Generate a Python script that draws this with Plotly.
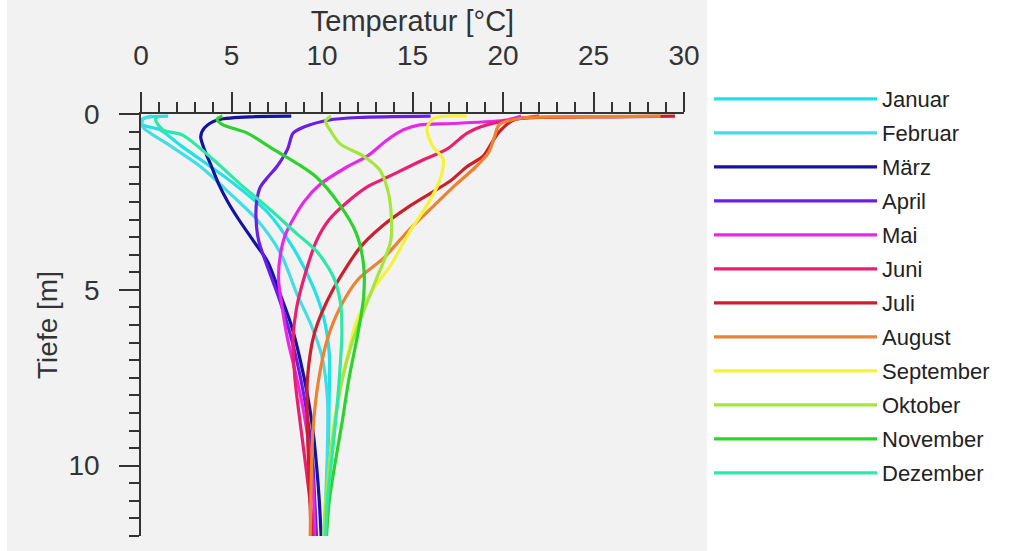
import plotly.graph_objects as go

months = ["Januar", "Februar", "März", "April", "Mai", "Juni", "Juli",
          "August", "September", "Oktober", "November", "Dezember"]
colors = ["#22e0e8", "#44dde6", "#1414a0", "#6a1ee6", "#e42ae8", "#ea1f6e",
          "#cc1f2c", "#ec8232", "#f6f23c", "#a4e63c", "#2ed22e", "#2ee8a8"]

# temperature [°C], with the matching depth [m]
jan_t = [1.5, 0.3, -0.2, 0.3, 1.05, 2.2, 3.3, 5.1, 7.0, 8.4, 9.5, 10.1, 10.4, 10.4, 10.35, 10.25, 10.2]
jan_d = [0.06, 0.1, 0.25, 0.35, 0.45, 0.9, 1.3, 1.97, 2.8, 3.8, 4.9, 5.8, 6.8, 8.0, 9.5, 11.0, 12.0]
feb_t = [0.6, 0.1, 0.1, 1.4, 3.3, 5.1, 6.4, 7.7, 8.6, 9.4, 10.0, 10.3, 10.3, 10.2, 10.15]
feb_d = [0.06, 0.15, 0.37, 0.83, 1.5, 2.35, 3.0, 3.95, 5.1, 6.0, 6.9, 8.1, 9.5, 11.0, 12.0]
mar_t = [8.3, 6.0, 4.2, 3.5, 3.3, 3.5, 3.9, 4.3, 4.8, 5.4, 6.2, 7.0, 7.6, 8.3, 8.8, 9.2, 9.5, 9.7, 9.85, 9.95]
mar_d = [0.06, 0.08, 0.17, 0.4, 0.65, 1.0, 1.5, 2.0, 2.5, 3.0, 3.6, 4.2, 5.0, 6.0, 7.0, 8.0, 9.0, 10.0, 11.0, 12.0]
apr_t = [16.0, 12.0, 10.4, 9.0, 8.4, 8.1, 7.5, 7.0, 6.6, 6.4, 6.35, 6.5, 7.1, 7.6, 8.1, 8.6, 9.0, 9.3, 9.5, 9.6, 9.7]
apr_d = [0.06, 0.1, 0.17, 0.37, 0.55, 1.0, 1.5, 1.8, 2.07, 2.45, 2.9, 3.6, 4.5, 5.2, 6.0, 7.0, 8.0, 9.0, 10.0, 11.0, 12.0]
mai_t = [21.0, 20.2, 17.2, 15.4, 14.5, 13.6, 12.5, 11.4, 9.9, 9.0, 8.0, 7.7, 7.6, 7.8, 8.1, 8.6, 9.0, 9.3, 9.5, 9.6]
mai_d = [0.06, 0.17, 0.27, 0.31, 0.45, 0.74, 1.2, 1.5, 2.0, 2.5, 3.4, 4.0, 4.7, 5.5, 6.4, 7.5, 8.5, 9.5, 10.5, 12.0]
jun_t = [22.0, 21.0, 19.1, 18.0, 16.9, 15.4, 13.6, 12.5, 11.4, 10.4, 9.7, 9.1, 8.6, 8.4, 8.5, 8.8, 9.1, 9.4, 9.5]
jun_d = [0.06, 0.12, 0.31, 0.55, 1.0, 1.35, 1.8, 2.07, 2.5, 3.0, 3.6, 4.5, 5.5, 6.4, 7.5, 8.8, 10.0, 11.3, 12.0]
jul_t = [29.5, 26.0, 22.0, 20.6, 19.8, 19.4, 18.9, 18.0, 17.1, 14.9, 13.3, 12.1, 10.6, 9.6, 9.2, 9.2, 9.3, 9.4]
jul_d = [0.06, 0.08, 0.1, 0.17, 0.5, 0.8, 1.2, 1.5, 1.9, 2.6, 3.2, 3.8, 5.0, 6.2, 7.5, 9.0, 10.5, 12.0]
aug_t = [28.7, 24.0, 21.0, 19.8, 19.5, 19.2, 18.5, 17.2, 16.0, 14.8, 13.4, 12.0, 11.0, 10.3, 9.8, 9.5, 9.4, 9.35]
aug_d = [0.06, 0.08, 0.12, 0.3, 0.7, 1.1, 1.5, 2.1, 2.7, 3.3, 4.1, 4.7, 5.5, 6.4, 7.6, 9.0, 10.5, 12.0]
sep_t = [18.0, 16.2, 15.8, 16.1, 16.7, 16.5, 15.8, 14.9, 13.8, 12.8, 11.9, 11.4, 11.0, 10.6, 10.35, 10.1]
sep_d = [0.06, 0.12, 0.4, 0.9, 1.3, 1.9, 2.6, 3.3, 4.3, 5.0, 5.9, 6.9, 7.8, 9.0, 10.5, 12.0]
okt_t = [10.5, 10.2, 10.5, 11.0, 12.3, 13.2, 13.6, 13.8, 13.8, 13.0, 12.3, 11.6, 11.1, 10.7, 10.4, 10.2, 10.1]
okt_d = [0.06, 0.2, 0.5, 0.85, 1.2, 1.6, 2.1, 2.7, 3.6, 4.7, 5.6, 6.6, 7.6, 8.8, 10.0, 11.0, 12.0]
nov_t = [4.5, 4.2, 4.5, 5.9, 7.3, 8.6, 9.7, 11.0, 11.9, 12.3, 12.3, 12.0, 11.5, 11.1, 10.7, 10.4, 10.25]
nov_d = [0.06, 0.15, 0.3, 0.55, 1.0, 1.4, 1.8, 2.6, 3.4, 4.3, 5.2, 6.2, 7.5, 8.8, 10.0, 11.0, 12.0]
dez_t = [1.0, 0.8, 1.2, 2.3, 4.0, 5.5, 7.1, 8.6, 9.7, 10.6, 11.0, 11.1, 11.0, 10.8, 10.5, 10.3, 10.2]
dez_d = [0.06, 0.15, 0.45, 0.6, 1.3, 2.0, 2.7, 3.4, 3.9, 4.6, 5.3, 6.2, 7.2, 8.5, 10.0, 11.0, 12.0]

temps = [jan_t, feb_t, mar_t, apr_t, mai_t, jun_t, jul_t, aug_t, sep_t, okt_t, nov_t, dez_t]
depths = [jan_d, feb_d, mar_d, apr_d, mai_d, jun_d, jul_d, aug_d, sep_d, okt_d, nov_d, dez_d]

x_ticks = [0, 5, 10, 15, 20, 25, 30]
y_ticks = [0, 5, 10]

fig = go.Figure()
for name, col, t, d in zip(months, colors, temps, depths):
    fig.add_trace(go.Scatter(
        x=t, y=d, name=name, mode="lines", legendgroup=name,
        line=dict(color=col, width=3.2, shape="spline", smoothing=0.8),
    ))

W, H = 1015, 551
L, R, T, B = 141, 331, 114, 15
pw, ph = W - L - R, H - T - B

def px_x(p):
    return (p - L) / pw

def px_y(p):
    return (H - B - p) / ph

font = "Arial, Liberation Sans, sans-serif"
axcol = "#333333"

fig.add_shape(type="rect", xref="paper", yref="paper", layer="below",
              x0=px_x(7), x1=px_x(707), y0=px_y(H + 2), y1=px_y(-2),
              fillcolor="#f2f2f2", line=dict(width=0))

fig.update_layout(
    template="none",
    width=W, height=H,
    margin=dict(l=L, r=R, t=T, b=B, pad=0, autoexpand=False),
    paper_bgcolor="white", plot_bgcolor="#f2f2f2",
    font=dict(family=font, size=28, color=axcol),
    showlegend=True,
    legend=dict(x=px_x(709), y=px_y(78), xanchor="left", yanchor="top",
                bgcolor="rgba(0,0,0,0)", font=dict(size=22, color="#222222"),
                itemwidth=163, tracegroupgap=2.4, traceorder="grouped",
                maxheight=540, borderwidth=0),
    xaxis=dict(
        side="top", range=[0, 30], tickmode="array", tickvals=x_ticks,
        ticks="outside", ticklen=20, tickwidth=1.5, tickcolor=axcol,
        minor=dict(dtick=1, ticklen=10, tickwidth=1.5, tickcolor=axcol, ticks="outside"),
        showline=True, linecolor=axcol, linewidth=1.5, automargin=False,
        showgrid=False, zeroline=False, ticklabelstandoff=16,
        title=dict(text="Temperatur [°C]", font=dict(size=29), standoff=0),
        tickfont=dict(size=28),
    ),
    yaxis=dict(
        range=[12, 0], tickmode="array", tickvals=y_ticks,
        ticks="outside", ticklen=20, tickwidth=1.5, tickcolor=axcol,
        minor=dict(dtick=0.5, ticklen=10, tickwidth=1.5, tickcolor=axcol, ticks="outside"),
        showline=True, linecolor=axcol, linewidth=1.5, automargin=False,
        showgrid=False, zeroline=False, ticklabelstandoff=14,
        title=dict(text="Tiefe [m]", font=dict(size=28), standoff=3),
        tickfont=dict(size=28),
    ),
)

fig.write_html("out.html", config={"displayModeBar": False},
               post_script="document.body.style.margin='0px';")
